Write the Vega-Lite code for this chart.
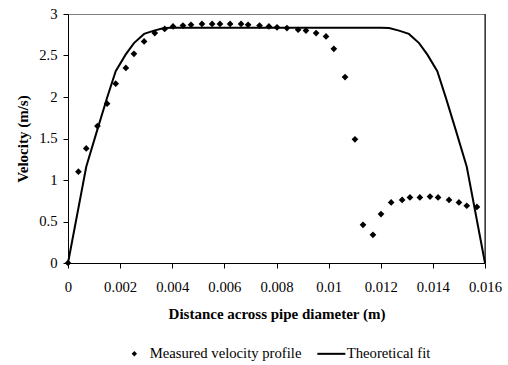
{
  "$schema": "https://vega.github.io/schema/vega-lite/v6.json",
  "width": 417,
  "height": 249,
  "autosize": "none",
  "padding": {"left": 68, "top": 14, "right": 23, "bottom": 102},
  "background": "white",
  "datasets": {
    "measured": [
      {"x": 0, "v": 0, "series": "Measured velocity profile"},
      {"x": 0.0004, "v": 1.10, "series": "Measured velocity profile"},
      {"x": 0.0007, "v": 1.38, "series": "Measured velocity profile"},
      {"x": 0.00113, "v": 1.65, "series": "Measured velocity profile"},
      {"x": 0.0015, "v": 1.92, "series": "Measured velocity profile"},
      {"x": 0.00183, "v": 2.16, "series": "Measured velocity profile"},
      {"x": 0.00222, "v": 2.35, "series": "Measured velocity profile"},
      {"x": 0.00253, "v": 2.52, "series": "Measured velocity profile"},
      {"x": 0.00292, "v": 2.67, "series": "Measured velocity profile"},
      {"x": 0.00333, "v": 2.77, "series": "Measured velocity profile"},
      {"x": 0.00371, "v": 2.82, "series": "Measured velocity profile"},
      {"x": 0.00403, "v": 2.85, "series": "Measured velocity profile"},
      {"x": 0.00441, "v": 2.86, "series": "Measured velocity profile"},
      {"x": 0.00472, "v": 2.87, "series": "Measured velocity profile"},
      {"x": 0.00514, "v": 2.88, "series": "Measured velocity profile"},
      {"x": 0.00553, "v": 2.88, "series": "Measured velocity profile"},
      {"x": 0.00583, "v": 2.88, "series": "Measured velocity profile"},
      {"x": 0.00622, "v": 2.88, "series": "Measured velocity profile"},
      {"x": 0.00664, "v": 2.88, "series": "Measured velocity profile"},
      {"x": 0.00691, "v": 2.87, "series": "Measured velocity profile"},
      {"x": 0.00735, "v": 2.86, "series": "Measured velocity profile"},
      {"x": 0.00771, "v": 2.85, "series": "Measured velocity profile"},
      {"x": 0.00802, "v": 2.84, "series": "Measured velocity profile"},
      {"x": 0.0084, "v": 2.83, "series": "Measured velocity profile"},
      {"x": 0.00883, "v": 2.81, "series": "Measured velocity profile"},
      {"x": 0.00913, "v": 2.80, "series": "Measured velocity profile"},
      {"x": 0.00952, "v": 2.77, "series": "Measured velocity profile"},
      {"x": 0.0099, "v": 2.73, "series": "Measured velocity profile"},
      {"x": 0.0102, "v": 2.58, "series": "Measured velocity profile"},
      {"x": 0.01063, "v": 2.24, "series": "Measured velocity profile"},
      {"x": 0.01101, "v": 1.49, "series": "Measured velocity profile"},
      {"x": 0.01132, "v": 0.46, "series": "Measured velocity profile"},
      {"x": 0.0117, "v": 0.34, "series": "Measured velocity profile"},
      {"x": 0.01201, "v": 0.59, "series": "Measured velocity profile"},
      {"x": 0.0124, "v": 0.73, "series": "Measured velocity profile"},
      {"x": 0.01282, "v": 0.76, "series": "Measured velocity profile"},
      {"x": 0.01312, "v": 0.79, "series": "Measured velocity profile"},
      {"x": 0.0135, "v": 0.79, "series": "Measured velocity profile"},
      {"x": 0.01389, "v": 0.80, "series": "Measured velocity profile"},
      {"x": 0.0142, "v": 0.79, "series": "Measured velocity profile"},
      {"x": 0.01462, "v": 0.76, "series": "Measured velocity profile"},
      {"x": 0.015, "v": 0.73, "series": "Measured velocity profile"},
      {"x": 0.0153, "v": 0.69, "series": "Measured velocity profile"},
      {"x": 0.01569, "v": 0.675, "series": "Measured velocity profile"}
    ],
    "fit": [
      {"x": 0, "v": 0, "series": "Theoretical fit"},
      {"x": 0.0007, "v": 1.16, "series": "Theoretical fit"},
      {"x": 0.00113, "v": 1.61, "series": "Theoretical fit"},
      {"x": 0.0015, "v": 1.99, "series": "Theoretical fit"},
      {"x": 0.00183, "v": 2.31, "series": "Theoretical fit"},
      {"x": 0.00221, "v": 2.51, "series": "Theoretical fit"},
      {"x": 0.00253, "v": 2.65, "series": "Theoretical fit"},
      {"x": 0.00292, "v": 2.76, "series": "Theoretical fit"},
      {"x": 0.0033, "v": 2.80, "series": "Theoretical fit"},
      {"x": 0.00368, "v": 2.83, "series": "Theoretical fit"},
      {"x": 0.004, "v": 2.835, "series": "Theoretical fit"},
      {"x": 0.012, "v": 2.835, "series": "Theoretical fit"},
      {"x": 0.01232, "v": 2.83, "series": "Theoretical fit"},
      {"x": 0.0127, "v": 2.80, "series": "Theoretical fit"},
      {"x": 0.01308, "v": 2.76, "series": "Theoretical fit"},
      {"x": 0.01347, "v": 2.65, "series": "Theoretical fit"},
      {"x": 0.01379, "v": 2.51, "series": "Theoretical fit"},
      {"x": 0.01417, "v": 2.31, "series": "Theoretical fit"},
      {"x": 0.0145, "v": 1.99, "series": "Theoretical fit"},
      {"x": 0.01487, "v": 1.61, "series": "Theoretical fit"},
      {"x": 0.0153, "v": 1.16, "series": "Theoretical fit"},
      {"x": 0.016, "v": 0, "series": "Theoretical fit"}
    ]
  },
  "layer": [
    {
      "data": {"name": "fit"},
      "mark": {"type": "line", "strokeWidth": 2},
      "encoding": {
        "x": {
          "field": "x", "type": "quantitative",
          "scale": {"domain": [0, 0.016], "nice": false, "zero": false},
          "axis": {
            "title": "Distance across pipe diameter (m)",
            "values": [0, 0.002, 0.004, 0.006, 0.008, 0.01, 0.012, 0.014, 0.016],
            "format": "~g",
            "grid": false,
            "labelFlush": false,
            "labelOverlap": false,
            "domainColor": "black", "tickColor": "black", "tickSize": 5,
            "labelFontSize": 14.7, "labelColor": "black", "labelPadding": 11,
            "titleFontSize": 15, "titleFontWeight": "bold", "titleColor": "black", "titlePadding": 13
          }
        },
        "y": {
          "field": "v", "type": "quantitative",
          "scale": {"domain": [0, 3], "nice": false},
          "axis": {
            "title": "Velocity (m/s)",
            "values": [0, 0.5, 1, 1.5, 2, 2.5, 3],
            "format": "~g",
            "grid": false,
            "labelFlush": false,
            "labelOverlap": false,
            "domainColor": "black", "tickColor": "black", "tickSize": 5,
            "labelFontSize": 14.7, "labelColor": "black", "labelPadding": 6,
            "titleFontSize": 15, "titleFontWeight": "bold", "titleColor": "black", "titlePadding": 8
          }
        },
        "color": {
          "field": "series", "type": "nominal",
          "scale": {"domain": ["Measured velocity profile", "Theoretical fit"], "range": ["black", "black"]},
          "legend": {
            "title": null,
            "orient": "none",
            "direction": "horizontal",
            "legendX": 59,
            "legendY": 332,
            "labelFontSize": 14.7,
            "labelColor": "black",
            "columnPadding": 11,
            "labelOffset": 8,
            "symbolType": "diamond",
            "symbolSize": 3136,
            "symbolStrokeWidth": 0,
            "symbolFillColor": "black",
            "encode": {
              "symbols": {
                "update": {
                  "shape": {"signal": "datum.value === 'Theoretical fit' ? 'stroke' : 'diamond'"},
                  "size": {"signal": "datum.value === 'Theoretical fit' ? 784 : 30"},
                  "strokeWidth": {"signal": "datum.value === 'Theoretical fit' ? 2 : 0"},
                  "stroke": {"value": "black"},
                  "fill": {"value": "black"}
                }
              }
            }
          }
        }
      }
    },
    {
      "data": {"name": "measured"},
      "mark": {"type": "point", "shape": "diamond", "filled": true, "size": 45, "opacity": 1},
      "encoding": {
        "x": {"field": "x", "type": "quantitative"},
        "y": {"field": "v", "type": "quantitative"},
        "color": {"field": "series", "type": "nominal"}
      }
    },
    {
      "data": {"values": [{"x": 0.016}]},
      "mark": {"type": "rule", "color": "black", "strokeWidth": 1},
      "encoding": {"x": {"field": "x", "type": "quantitative"}}
    }
  ],
  "config": {
    "font": "Times New Roman, Liberation Serif, serif",
    "view": {"stroke": "#808080", "strokeWidth": 1},
    "axis": {"labelFont": "Times New Roman, Liberation Serif, serif", "titleFont": "Times New Roman, Liberation Serif, serif"},
    "legend": {"labelFont": "Times New Roman, Liberation Serif, serif"}
  }
}
